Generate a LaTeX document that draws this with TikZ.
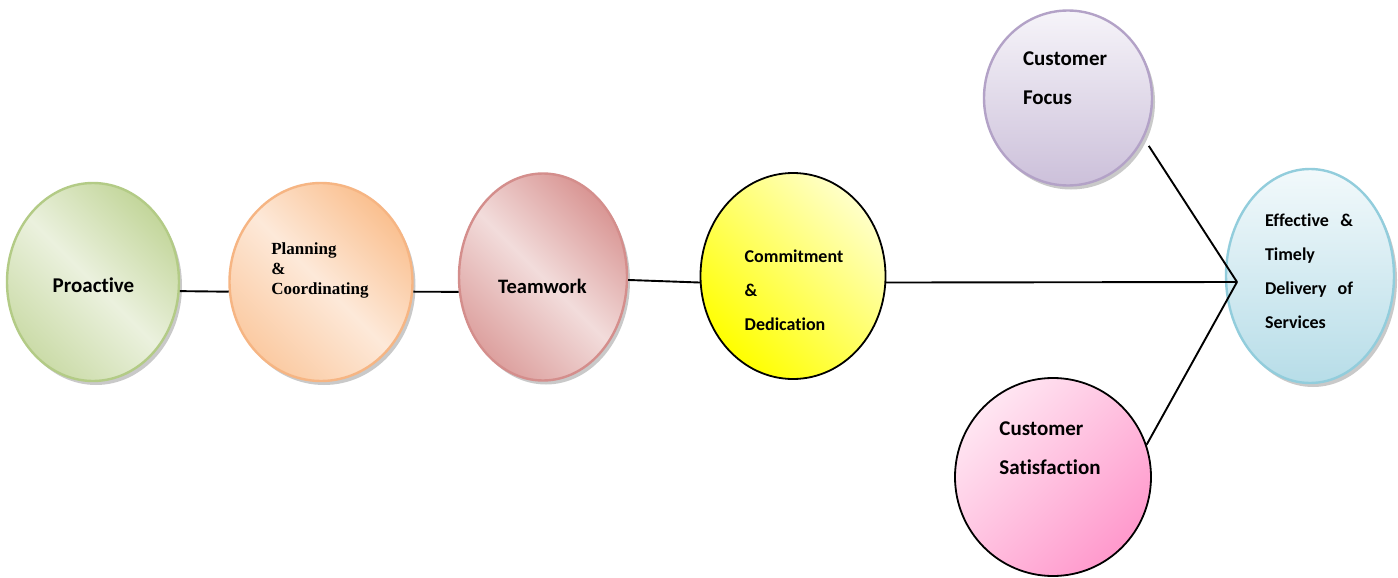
\documentclass[tikz,border=0pt]{standalone}
\usepackage{fontspec}
\setmainfont{Carlito}[Ligatures=NoCommon]
\newfontfamily\timesfont{Liberation Serif}
\usetikzlibrary{shapes.geometric,shadows}

% fill and border colours of the bubbles
\definecolor{grnD}{HTML}{C3D69B}\definecolor{grnL}{HTML}{EBF1DE}\definecolor{grnB}{HTML}{B3CB86}
\definecolor{orgD}{HTML}{FAC090}\definecolor{orgL}{HTML}{FDE9D9}\definecolor{orgB}{HTML}{F6B583}
\definecolor{redD}{HTML}{D99694}\definecolor{redL}{HTML}{F2DCDB}\definecolor{redB}{HTML}{D48E8C}
\definecolor{yelD}{HTML}{FFFF00}\definecolor{yelL}{HTML}{FFFFC8}
\definecolor{purT}{HTML}{F6F4F9}\definecolor{purB}{HTML}{CCC0DA}\definecolor{purBd}{HTML}{B3A2C7}
\definecolor{pnkL}{HTML}{FFE6F2}\definecolor{pnkD}{HTML}{FF99CC}
\definecolor{bluT}{HTML}{F2F9FB}\definecolor{bluB}{HTML}{B7DDE8}\definecolor{bluBd}{HTML}{92CDDC}

\begin{document}
\begin{tikzpicture}[x=1pt,y=-1pt,
  bubble/.style={ellipse, draw, line width=2.4pt, inner sep=0pt},
  outlined/.style={draw=black, line width=1.8pt},
  shadowed/.style={drop shadow={shadow xshift=3pt, shadow yshift=-4pt, opacity=0.35, fill=black!60}},
  conn/.style={draw=black, line width=1.9pt},
  txt/.style 2 args={inner sep=0pt, align=left, font=\bfseries\fontsize{#1}{#2}\selectfont}]

\useasboundingbox[fill=white] (0,0) rectangle (1398,578);

% bubbles
\node[bubble, shadowed, draw=grnB, top color=grnD, bottom color=grnD!80!grnL, middle color=grnL,
      shading angle=-45, minimum width=172pt, minimum height=198pt] (pro) at (93,282) {};
\node[bubble, shadowed, draw=orgB, top color=orgD, bottom color=orgD!75!orgL, middle color=orgL,
      shading angle=-45, minimum width=183pt, minimum height=198pt] (plan) at (321,282) {};
\node[bubble, shadowed, draw=redB, top color=redD, bottom color=redD!85!redL, middle color=redL,
      shading angle=-45, minimum width=168pt, minimum height=207pt] (team) at (543,277) {};
\node[bubble, outlined, top color=yelL, bottom color=yelD,
      shading angle=-45, minimum width=185pt, minimum height=206pt] (commit) at (793,276) {};
\node[bubble, shadowed, draw=purBd, top color=purT, bottom color=purB,
      minimum width=168pt, minimum height=175pt] (focus) at (1068,98) {};
\node[bubble, outlined, top color=pnkL, bottom color=pnkD,
      shading angle=45, minimum width=196pt, minimum height=198pt] (sat) at (1053,477) {};
\node[bubble, shadowed, draw=bluBd, top color=bluT, bottom color=bluB,
      minimum width=168pt, minimum height=214pt] (eff) at (1310,276) {};

% labels
\node[txt={21}{21}] (tpro) at (93.5,285) {Proactive};
\node[txt={17}{20}, font=\timesfont\bfseries\fontsize{17}{20}\selectfont] (tplan) at (320,270)
  {Planning\\\&\\Coordinating};
\node[txt={20.5}{20.5}] (tteam) at (542.5,286) {Teamwork};
\node[txt={18}{34}] (tcommit) at (794,290) {Commitment\\\&\\Dedication};
\node[txt={21}{39}] (tfocus) at (1065,78) {Customer\\Focus};
\node[txt={21}{39}] (tsat) at (1050,448) {Customer\\Satisfaction};
\node[txt={18}{34}, text width=88pt] (teff) at (1309,271)
  {Effective\hfill\&\\Timely\\Delivery\hfill of\\Services};

% connectors
\coordinate (hub) at (1237,282);
\draw[conn] (pro.-6.6) -- (plan.186);
\draw[conn] (plan.-6) -- (team.190);
\draw[conn] (team.-2) -- (commit.184);
\draw[conn] (commit.-4) -- (hub);
\draw[conn, shorten <=9pt] (focus.-28) -- (hub);
\draw[conn] (sat.19) -- (hub);
\end{tikzpicture}
\end{document}
